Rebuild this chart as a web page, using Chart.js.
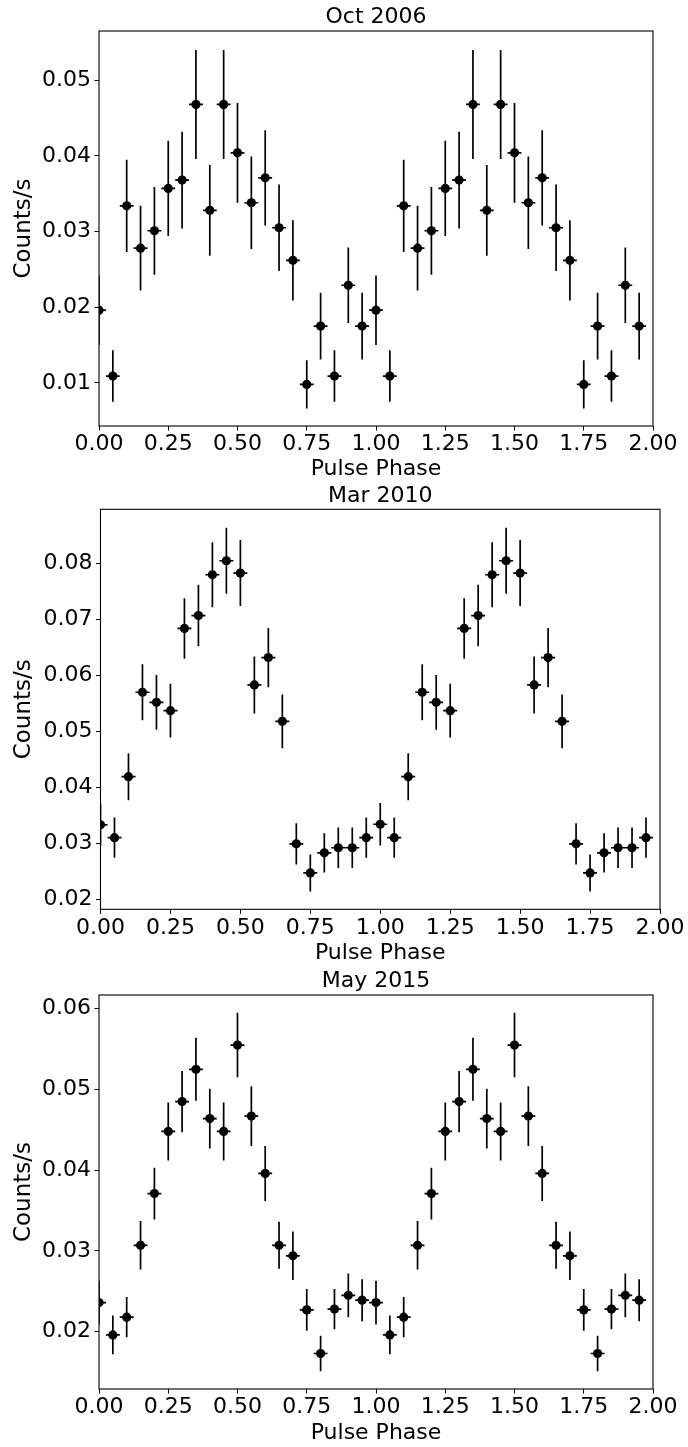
<!DOCTYPE html>
<html><head><meta charset="utf-8">
<script src="https://cdn.jsdelivr.net/npm/chart.js@4/dist/chart.umd.min.js"></script>
<style>
html,body{margin:0;padding:0;background:#fff;}
#wrap{position:relative;width:688px;height:1447px;overflow:hidden;background:#fff;}
canvas{position:absolute;left:0;}
</style></head><body><div id="wrap">
<canvas id="c1"></canvas><canvas id="c2"></canvas><canvas id="c3"></canvas>
</div>
<script>
// ---------- data ----------
const PHASE = [0.00,0.05,0.10,0.15,0.20,0.25,0.30,0.35,0.40,0.45,0.50,0.55,0.60,0.65,0.70,0.75,0.80,0.85,0.90,0.95,
               1.00,1.05,1.10,1.15,1.20,1.25,1.30,1.35,1.40,1.45,1.50,1.55,1.60,1.65,1.70,1.75,1.80,1.85,1.90,1.95];
const PHASE_ERR = 0.025;
const X_TICKS = [0,0.25,0.5,0.75,1.0,1.25,1.5,1.75,2.0];
const X_TICK_LABELS = ['0.00','0.25','0.50','0.75','1.00','1.25','1.50','1.75','2.00'];

const TITLES = ['Oct 2006','Mar 2010','May 2015'];

const OCT2006_RATE = [0.0196,0.0109,0.0334,0.0278,0.0301,0.0357,0.0368,0.0468,0.0328,0.0468,0.0404,0.0338,0.0371,0.0305,0.0262,0.0098,0.0175,0.0109,0.0229,0.0175,
                      0.0196,0.0109,0.0334,0.0278,0.0301,0.0357,0.0368,0.0468,0.0328,0.0468,0.0404,0.0338,0.0371,0.0305,0.0262,0.0098,0.0175,0.0109,0.0229,0.0175];
const OCT2006_ERR  = [0.0046,0.0034,0.0061,0.0056,0.0058,0.0063,0.0064,0.0072,0.0060,0.0072,0.0066,0.0061,0.0063,0.0057,0.0053,0.0032,0.0044,0.0034,0.0050,0.0044,
                      0.0046,0.0034,0.0061,0.0056,0.0058,0.0063,0.0064,0.0072,0.0060,0.0072,0.0066,0.0061,0.0063,0.0057,0.0053,0.0032,0.0044,0.0034,0.0050,0.0044];

const MAR2010_RATE = [0.0333,0.0310,0.0419,0.0570,0.0552,0.0537,0.0684,0.0707,0.0780,0.0805,0.0783,0.0583,0.0632,0.0518,0.0299,0.0247,0.0283,0.0292,0.0292,0.0310,
                      0.0334,0.0310,0.0419,0.0570,0.0552,0.0537,0.0684,0.0707,0.0780,0.0805,0.0783,0.0583,0.0632,0.0518,0.0299,0.0247,0.0283,0.0292,0.0292,0.0310];
const MAR2010_ERR  = [0.0038,0.0036,0.0042,0.0050,0.0049,0.0048,0.0054,0.0055,0.0058,0.0059,0.0059,0.0051,0.0053,0.0048,0.0037,0.0033,0.0035,0.0036,0.0036,0.0036,
                      0.0038,0.0036,0.0042,0.0050,0.0049,0.0048,0.0054,0.0055,0.0058,0.0059,0.0059,0.0051,0.0053,0.0048,0.0037,0.0033,0.0035,0.0036,0.0036,0.0036];

const MAY2015_RATE = [0.0236,0.0196,0.0218,0.0307,0.0371,0.0448,0.0485,0.0525,0.0464,0.0448,0.0555,0.0467,0.0396,0.0307,0.0294,0.0227,0.0173,0.0228,0.0245,0.0239,
                      0.0236,0.0196,0.0218,0.0307,0.0371,0.0448,0.0485,0.0525,0.0464,0.0448,0.0555,0.0467,0.0396,0.0307,0.0294,0.0227,0.0173,0.0228,0.0245,0.0239];
const MAY2015_ERR  = [0.0027,0.0024,0.0025,0.0030,0.0032,0.0036,0.0038,0.0039,0.0037,0.0036,0.0040,0.0037,0.0034,0.0029,0.0030,0.0026,0.0022,0.0025,0.0027,0.0026,
                      0.0027,0.0024,0.0025,0.0030,0.0032,0.0036,0.0038,0.0039,0.0037,0.0036,0.0040,0.0037,0.0034,0.0029,0.0030,0.0026,0.0022,0.0025,0.0027,0.0026];

const Y_TICKS_OCT2006 = [0.01,0.02,0.03,0.04,0.05];
const Y_TICK_LABELS_OCT2006 = ['0.01','0.02','0.03','0.04','0.05'];
const Y_TICKS_MAR2010 = [0.02,0.03,0.04,0.05,0.06,0.07,0.08];
const Y_TICK_LABELS_MAR2010 = ['0.02','0.03','0.04','0.05','0.06','0.07','0.08'];
const Y_TICKS_MAY2015 = [0.02,0.03,0.04,0.05,0.06];
const Y_TICK_LABELS_MAY2015 = ['0.02','0.03','0.04','0.05','0.06'];

const Y_RANGE_OCT2006 = [0.0043, 0.0565];
const Y_RANGE_MAR2010 = [0.0182, 0.0897];
const Y_RANGE_MAY2015 = [0.0129, 0.0617];

// ---------- layout (pixel geometry, not data) ----------
const FONT = "'DejaVu Sans', sans-serif";
const PANELS = [
  {id:'c1', top:0,   h:485, L:99,    R:653, A:31,    B:426,    tC:17.5,  xtC:469,
   title:TITLES[0], rate:OCT2006_RATE, err:OCT2006_ERR, yt:Y_TICKS_OCT2006, ytl:Y_TICK_LABELS_OCT2006, yr:Y_RANGE_OCT2006},
  {id:'c2', top:478, h:492, L:100.5, R:660, A:509.3, B:909.3,  tC:496.5, xtC:953.5,
   title:TITLES[1], rate:MAR2010_RATE, err:MAR2010_ERR, yt:Y_TICKS_MAR2010, ytl:Y_TICK_LABELS_MAR2010, yr:Y_RANGE_MAR2010},
  {id:'c3', top:960, h:487, L:99,    R:653, A:995,   B:1389,   tC:981.5, xtC:1433.5,
   title:TITLES[2], rate:MAY2015_RATE, err:MAY2015_ERR, yt:Y_TICKS_MAY2015, ytl:Y_TICK_LABELS_MAY2015, yr:Y_RANGE_MAY2015}
];

const errorBarPlugin = {
  id: 'errorBars',
  beforeDatasetsDraw(chart) {
    const {ctx, chartArea, scales:{x, y}} = chart;
    ctx.save();
    ctx.beginPath();
    ctx.rect(chartArea.left, chartArea.top, chartArea.right - chartArea.left, chartArea.bottom - chartArea.top);
    ctx.clip();
    ctx.strokeStyle = '#000';
    ctx.lineWidth = 1.7;
    chart.data.datasets.forEach(ds => {
      ds.data.forEach((pt, i) => {
        const e = ds.yErr[i];
        const px = x.getPixelForValue(pt.x);
        const py = y.getPixelForValue(pt.y);
        ctx.beginPath();
        ctx.moveTo(px, y.getPixelForValue(pt.y - e));
        ctx.lineTo(px, y.getPixelForValue(pt.y + e));
        ctx.moveTo(x.getPixelForValue(pt.x - PHASE_ERR), py);
        ctx.lineTo(x.getPixelForValue(pt.x + PHASE_ERR), py);
        ctx.stroke();
      });
    });
    ctx.restore();
  }
};
const framePlugin = {
  id: 'frame',
  afterDraw(chart) {
    const {ctx, chartArea:a} = chart;
    ctx.save();
    ctx.strokeStyle = '#000';
    ctx.lineWidth = 1.1;
    ctx.strokeRect(a.left, a.top, a.right - a.left, a.bottom - a.top);
    ctx.restore();
  }
};

PANELS.forEach(p => {
  const cv = document.getElementById(p.id);
  cv.width = 688; cv.height = p.h;
  cv.style.top = p.top + 'px';
  cv.style.width = '688px'; cv.style.height = p.h + 'px';
  const titleLH = 22 * 1.1;
  const pt = p.tC - p.top - titleLH / 2;
  const pb = (p.A - p.top) - titleLH - pt;
  const xAxisH = p.top + p.h - p.B;
  const xTitlePadB = p.top + p.h - p.xtC - 22 * 1.2 / 2;
  const yTitlePadT = 23.8 - 23 * 1.2 / 2;

  new Chart(cv, {
    type: 'scatter',
    data: {
      datasets: [{
        data: PHASE.map((ph, i) => ({x: ph, y: p.rate[i]})),
        yErr: p.err,
        pointRadius: 4.6,
        pointHoverRadius: 4.6,
        pointBackgroundColor: '#000',
        pointBorderColor: '#000',
        pointBorderWidth: 0,
        showLine: false,
        clip: 0
      }]
    },
    options: {
      responsive: false,
      animation: false,
      events: [],
      devicePixelRatio: 1,
      layout: {padding: {left: 0, right: 688 - p.R, top: 0, bottom: 0}},
      plugins: {
        legend: {display: false},
        tooltip: {enabled: false},
        title: {
          display: true, text: p.title, color: '#000', fullSize: false,
          font: {family: FONT, size: 22, weight: 'normal', lineHeight: 1.1},
          padding: {top: pt, bottom: pb}
        }
      },
      scales: {
        x: {
          type: 'linear', min: 0, max: 2,
          afterBuildTicks: s => { s.ticks = X_TICKS.map(v => ({value: v})); },
          afterFit: s => { s.height = xAxisH; },
          ticks: {
            autoSkip: false, maxRotation: 0, padding: 1, color: '#000',
            font: {family: FONT, size: 22},
            callback: (v) => X_TICK_LABELS[X_TICKS.indexOf(v)] ?? ''
          },
          grid: {drawOnChartArea: false, drawTicks: true, tickLength: 4.5, color: '#000', lineWidth: 1},
          border: {display: false},
          title: {display: true, text: 'Pulse Phase', color: '#000',
                  font: {family: FONT, size: 22}, padding: {top: 0, bottom: xTitlePadB}}
        },
        y: {
          type: 'linear', min: p.yr[0], max: p.yr[1],
          afterBuildTicks: s => { s.ticks = p.yt.map(v => ({value: v})); },
          afterFit: s => { s.width = p.L; },
          ticks: {
            padding: 3.5, color: '#000',
            font: {family: FONT, size: 22},
            callback: (v) => { const k = p.yt.findIndex(t => Math.abs(t - v) < 1e-9); return k >= 0 ? p.ytl[k] : ''; }
          },
          grid: {drawOnChartArea: false, drawTicks: true, tickLength: 4.5, color: '#000', lineWidth: 1},
          border: {display: false},
          title: {display: true, text: 'Counts/s', color: '#000',
                  font: {family: FONT, size: 23}, padding: {top: yTitlePadT, bottom: 0}}
        }
      }
    },
    plugins: [errorBarPlugin, framePlugin]
  });
});
</script>
</body></html>
